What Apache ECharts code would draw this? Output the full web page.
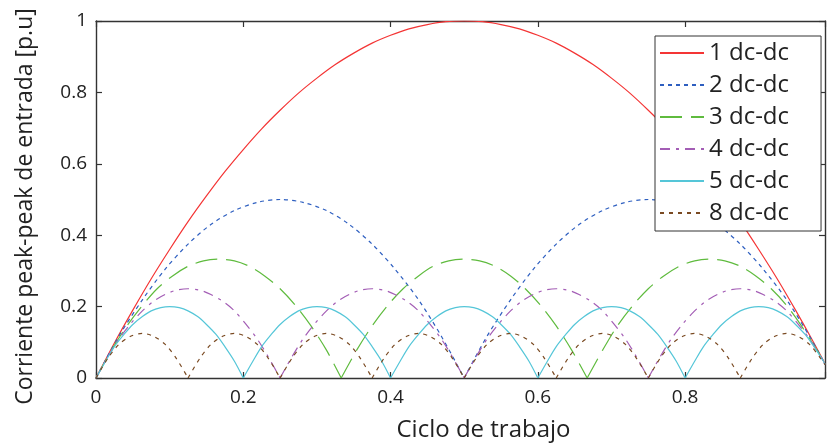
<!DOCTYPE html>
<html>
<head>
<meta charset="utf-8">
<script src="https://cdn.jsdelivr.net/npm/echarts@6/dist/echarts.min.js"></script>
<style>
html, body { margin: 0; padding: 0; background: #fff; }
#chart { width: 828px; height: 447px; }
</style>
</head>
<body>
<div id="chart"></div>
<script>
// valores: [ciclo de trabajo, corriente p.u]
var ripple1 = [[0,0],[0.025,0.098],[0.05,0.19],[0.075,0.278],[0.1,0.36],[0.125,0.438],[0.15,0.51],[0.175,0.578],[0.2,0.64],
	[0.225,0.698],[0.25,0.75],[0.275,0.798],[0.3,0.84],[0.325,0.878],[0.35,0.91],[0.375,0.938],[0.4,0.96],[0.425,0.978],
	[0.45,0.99],[0.475,0.998],[0.5,1],[0.525,0.998],[0.55,0.99],[0.575,0.978],[0.6,0.96],[0.625,0.938],[0.65,0.91],
	[0.675,0.878],[0.7,0.84],[0.725,0.798],[0.75,0.75],[0.775,0.698],[0.8,0.64],[0.825,0.578],[0.85,0.51],[0.875,0.438],
	[0.9,0.36],[0.925,0.278],[0.95,0.19],[0.975,0.098],[0.99,0.04]];
var ripple2 = [[0,0],[0.031,0.117],[0.063,0.219],[0.094,0.305],[0.125,0.375],[0.156,0.43],[0.188,0.469],[0.219,0.492],[0.25,0.5],
	[0.281,0.492],[0.313,0.469],[0.344,0.43],[0.375,0.375],[0.406,0.305],[0.438,0.219],[0.469,0.117],[0.5,0],
	[0.531,0.117],[0.563,0.219],[0.594,0.305],[0.625,0.375],[0.656,0.43],[0.688,0.469],[0.719,0.492],[0.75,0.5],
	[0.781,0.492],[0.813,0.469],[0.844,0.43],[0.875,0.375],[0.906,0.305],[0.938,0.219],[0.969,0.117],[0.99,0.039]];
var ripple3 = [[0,0],[0.021,0.078],[0.042,0.146],[0.063,0.203],[0.083,0.25],[0.104,0.286],[0.125,0.313],[0.146,0.328],[0.167,0.333],
	[0.188,0.328],[0.208,0.313],[0.229,0.286],[0.25,0.25],[0.271,0.203],[0.292,0.146],[0.313,0.078],[0.333,0],
	[0.354,0.078],[0.375,0.146],[0.396,0.203],[0.417,0.25],[0.438,0.286],[0.458,0.313],[0.479,0.328],[0.5,0.333],
	[0.521,0.328],[0.542,0.313],[0.563,0.286],[0.583,0.25],[0.604,0.203],[0.625,0.146],[0.646,0.078],[0.667,0],
	[0.688,0.078],[0.708,0.146],[0.729,0.203],[0.75,0.25],[0.771,0.286],[0.792,0.313],[0.813,0.328],[0.833,0.333],
	[0.854,0.328],[0.875,0.313],[0.896,0.286],[0.917,0.25],[0.938,0.203],[0.958,0.146],[0.979,0.078],[0.99,0.039]];
var ripple4 = [[0,0],[0.016,0.059],[0.031,0.109],[0.047,0.152],[0.063,0.188],[0.078,0.215],[0.094,0.234],[0.109,0.246],[0.125,0.25],
	[0.141,0.246],[0.156,0.234],[0.172,0.215],[0.188,0.188],[0.203,0.152],[0.219,0.109],[0.234,0.059],[0.25,0],
	[0.266,0.059],[0.281,0.109],[0.297,0.152],[0.313,0.188],[0.328,0.215],[0.344,0.234],[0.359,0.246],[0.375,0.25],
	[0.391,0.246],[0.406,0.234],[0.422,0.215],[0.438,0.188],[0.453,0.152],[0.469,0.109],[0.484,0.059],[0.5,0],
	[0.516,0.059],[0.531,0.109],[0.547,0.152],[0.563,0.188],[0.578,0.215],[0.594,0.234],[0.609,0.246],[0.625,0.25],
	[0.641,0.246],[0.656,0.234],[0.672,0.215],[0.688,0.188],[0.703,0.152],[0.719,0.109],[0.734,0.059],[0.75,0],
	[0.766,0.059],[0.781,0.109],[0.797,0.152],[0.813,0.188],[0.828,0.215],[0.844,0.234],[0.859,0.246],[0.875,0.25],
	[0.891,0.246],[0.906,0.234],[0.922,0.215],[0.938,0.188],[0.953,0.152],[0.969,0.109],[0.984,0.059],[0.99,0.038]];
var ripple5 = [[0,0],[0.013,0.047],[0.025,0.088],[0.038,0.122],[0.05,0.15],[0.063,0.172],[0.075,0.188],[0.088,0.197],[0.1,0.2],
	[0.113,0.197],[0.125,0.188],[0.138,0.172],[0.15,0.15],[0.163,0.122],[0.175,0.088],[0.188,0.047],[0.2,0],
	[0.213,0.047],[0.225,0.088],[0.238,0.122],[0.25,0.15],[0.263,0.172],[0.275,0.188],[0.288,0.197],[0.3,0.2],
	[0.313,0.197],[0.325,0.188],[0.338,0.172],[0.35,0.15],[0.363,0.122],[0.375,0.088],[0.388,0.047],[0.4,0],
	[0.413,0.047],[0.425,0.088],[0.438,0.122],[0.45,0.15],[0.463,0.172],[0.475,0.188],[0.488,0.197],[0.5,0.2],
	[0.513,0.197],[0.525,0.188],[0.538,0.172],[0.55,0.15],[0.563,0.122],[0.575,0.088],[0.588,0.047],[0.6,0],
	[0.613,0.047],[0.625,0.088],[0.638,0.122],[0.65,0.15],[0.663,0.172],[0.675,0.188],[0.688,0.197],[0.7,0.2],
	[0.713,0.197],[0.725,0.188],[0.738,0.172],[0.75,0.15],[0.763,0.122],[0.775,0.088],[0.788,0.047],[0.8,0],
	[0.813,0.047],[0.825,0.088],[0.838,0.122],[0.85,0.15],[0.863,0.172],[0.875,0.188],[0.888,0.197],[0.9,0.2],
	[0.913,0.197],[0.925,0.188],[0.938,0.172],[0.95,0.15],[0.963,0.122],[0.975,0.088],[0.988,0.047],[0.99,0.038]];
var ripple8 = [[0,0],[0.016,0.055],[0.031,0.094],[0.047,0.117],[0.063,0.125],[0.078,0.117],[0.094,0.094],[0.109,0.055],[0.125,0],
	[0.141,0.055],[0.156,0.094],[0.172,0.117],[0.188,0.125],[0.203,0.117],[0.219,0.094],[0.234,0.055],[0.25,0],
	[0.266,0.055],[0.281,0.094],[0.297,0.117],[0.313,0.125],[0.328,0.117],[0.344,0.094],[0.359,0.055],[0.375,0],
	[0.391,0.055],[0.406,0.094],[0.422,0.117],[0.438,0.125],[0.453,0.117],[0.469,0.094],[0.484,0.055],[0.5,0],
	[0.516,0.055],[0.531,0.094],[0.547,0.117],[0.563,0.125],[0.578,0.117],[0.594,0.094],[0.609,0.055],[0.625,0],
	[0.641,0.055],[0.656,0.094],[0.672,0.117],[0.688,0.125],[0.703,0.117],[0.719,0.094],[0.734,0.055],[0.75,0],
	[0.766,0.055],[0.781,0.094],[0.797,0.117],[0.813,0.125],[0.828,0.117],[0.844,0.094],[0.859,0.055],[0.875,0],
	[0.891,0.055],[0.906,0.094],[0.922,0.117],[0.938,0.125],[0.953,0.117],[0.969,0.094],[0.984,0.055],[0.99,0.037]];

var names = ['1 dc-dc', '2 dc-dc', '3 dc-dc', '4 dc-dc', '5 dc-dc', '8 dc-dc'];
var xTicks = [0, 0.2, 0.4, 0.6, 0.8];
var yTicks = [0, 0.2, 0.4, 0.6, 0.8, 1];

var fontName = 'Open Sans';

var curves = [
	{ name: names[0], data: ripple1, color: '#f43535', dash: 'solid' },
	{ name: names[1], data: ripple2, color: '#2e5fc0', dash: [4, 4] },
	{ name: names[2], data: ripple3, color: '#5fbb3e', dash: [22, 9] },
	{ name: names[3], data: ripple4, color: '#a35db5', dash: [10, 6, 3, 6] },
	{ name: names[4], data: ripple5, color: '#55c6d8', dash: 'solid' },
	{ name: names[5], data: ripple8, color: '#7a4a22', dash: [4, 5] }
];

function makeLine(c, pts) {
	return {
		type: 'line',
		name: c.name,
		data: pts,
		smooth: 0.3,
		showSymbol: false,
		symbol: 'none',
		color: c.color,
		lineStyle: { color: c.color, width: 1.2, type: c.dash },
		silent: true
	};
}

// cada arco se dibuja por separado para conservar los picos en cero
var seriesList = [];
curves.forEach(function (c) {
	var arch = [];
	c.data.forEach(function (p) {
		arch.push(p);
		if (p[1] === 0 && arch.length > 1) {
			seriesList.push(makeLine(c, arch));
			arch = [p];
		}
	});
	if (arch.length > 1) seriesList.push(makeLine(c, arch));
});

var axisLineStyle = { color: '#333', width: 1.4 };
var tickStyle = { show: true, inside: true, length: 6, lineStyle: { color: '#333', width: 1.2 } };

var option = {
	animation: false,
	backgroundColor: '#fff',
	grid: { left: 96, right: 0, top: 21, bottom: 68, containLabel: false },
	legend: {
		data: names,
		orient: 'vertical',
		left: 655,
		top: 36,
		itemWidth: 44,
		itemHeight: 14,
		itemGap: 8,
		padding: [5, 32, 6, 4],
		backgroundColor: '#fff',
		borderColor: '#333',
		borderWidth: 1,
		borderRadius: 0,
		itemStyle: { opacity: 0 },
		textStyle: { fontFamily: fontName, fontSize: 24, color: '#222' }
	},
	xAxis: [
		{
			type: 'value', min: 0, max: 0.99, interval: 0.2,
			name: 'Ciclo de trabajo', nameLocation: 'middle', nameGap: 40,
			nameTextStyle: { fontFamily: fontName, fontSize: 24, color: '#222', padding: [0, 0, 0, 46] },
			axisLine: { show: true, onZero: false, lineStyle: axisLineStyle },
			axisTick: tickStyle,
			axisLabel: {
				fontFamily: fontName, fontSize: 19, color: '#222', margin: 10,
				formatter: function (v) { return xTicks.indexOf(+v.toFixed(2)) >= 0 ? String(+v.toFixed(2)) : ''; }
			},
			splitLine: { show: false }
		},
		{
			type: 'value', min: 0, max: 0.99, interval: 0.2, position: 'top',
			axisLine: { show: true, onZero: false, lineStyle: axisLineStyle },
			axisTick: tickStyle,
			axisLabel: { show: false },
			splitLine: { show: false }
		}
	],
	yAxis: [
		{
			type: 'value', min: 0, max: 1, interval: 0.2,
			name: 'Corriente peak-peak de entrada [p.u]', nameLocation: 'middle', nameGap: 59,
			nameTextStyle: { fontFamily: fontName, fontSize: 23, color: '#222', padding: [0, 14, 0, 0] },
			axisLine: { show: true, onZero: false, lineStyle: axisLineStyle },
			axisTick: tickStyle,
			axisLabel: {
				fontFamily: fontName, fontSize: 19, color: '#222', margin: 9,
				formatter: function (v) { return yTicks.indexOf(+v.toFixed(2)) >= 0 ? String(+v.toFixed(2)) : ''; }
			},
			splitLine: { show: false }
		},
		{
			type: 'value', min: 0, max: 1, interval: 0.2, position: 'right',
			axisLine: { show: true, onZero: false, lineStyle: axisLineStyle },
			axisTick: tickStyle,
			axisLabel: { show: false },
			splitLine: { show: false }
		}
	],
	series: seriesList
};

var chart = echarts.init(document.getElementById('chart'), null, { renderer: 'canvas' });
chart.setOption(option);
</script>
</body>
</html>
